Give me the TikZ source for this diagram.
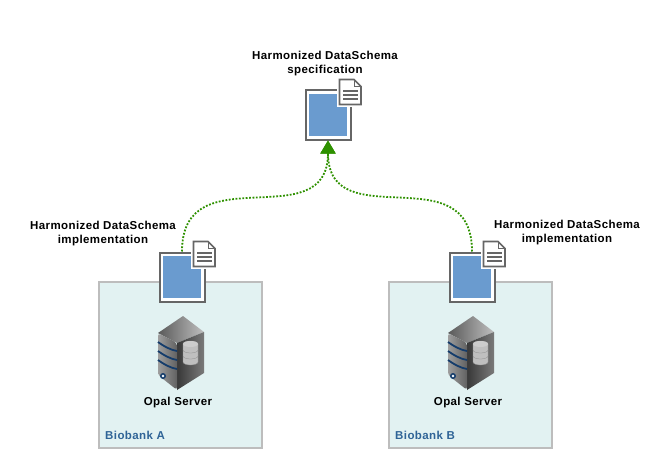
\documentclass[tikz,border=0pt]{standalone}
\usepackage{fontspec}
\setmainfont[LetterSpace=3.5]{Liberation Sans}
\usepackage{xcolor}
\usetikzlibrary{arrows.meta}
\definecolor{bankfill}{HTML}{E2F2F2}
\definecolor{bankline}{HTML}{BDBDBD}
\definecolor{banktext}{HTML}{2F6497}
\definecolor{docblue}{HTML}{6A9BCF}
\definecolor{docline}{HTML}{666666}
\definecolor{linkgreen}{HTML}{2E9100}
\definecolor{stripeblue}{HTML}{143C6B}
\tikzset{
  caption/.style={font=\fontsize{11.5}{14}\selectfont\bfseries, align=center, inner sep=0pt},
  bank/.style={draw=bankline, fill=bankfill, line width=1.2pt, minimum width=163pt, minimum height=166pt, inner sep=0pt},
  bankname/.style={font=\fontsize{11.5}{14}\selectfont\bfseries, text=banktext, anchor=west, inner sep=0pt},
  link/.style={draw=linkgreen, line width=1.8pt, dash pattern=on 1.8pt off 1.6pt, -{Triangle[length=13pt,width=15pt,fill=linkgreen]}},
  doc/.pic={
    \node (frame) [draw=docline, fill=white, line width=2pt, minimum width=45pt, minimum height=49pt, inner sep=0pt] at (0,0) {};
    \fill[docblue] (-19,-21) rectangle (19,21);
    \fill[white] (9,-37) rectangle (35,-8);
    \draw[docline, fill=white, line width=1.6pt] (11.5,-35.5) -- (26,-35.5) -- (33,-28.5) -- (33,-10.5) -- (11.5,-10.5) -- cycle;
    \draw[docline, line width=1pt] (26,-35.5) -- (26,-28.5) -- (33,-28.5);
    \foreach \y in {-24,-20,-16} \draw[docline, line width=1.6pt] (15,\y) -- (30,\y);
  },
  server/.pic={
    \shade[left color=black!65, right color=black!25] (2,-37) -- (23,-21) -- (-4,-10) -- (-23,-20) -- cycle;
    \shade[left color=black!78, right color=black!52] (-4,-10) -- (23,-21) -- (23,20) -- (-4,37) -- cycle;
    \shade[left color=black!38, right color=black!62, rounded corners=3pt] (-23,-20) -- (-4,-10) -- (-4,37) -- (-23,22) -- cycle;
    \foreach \y in {-11,-2,7} \draw[stripeblue, line width=1.8pt] (-23,\y) .. controls (-16,\y+5) and (-10,\y+8) .. (-4,\y+9);
    \fill[stripeblue] (-18,23) circle (3pt);
    \fill[white] (-18,23) circle (1.3pt);
    \foreach \y in {6,0,-6} {
      \fill[black!25, draw=black!45, line width=.3pt] (2,\y-3) -- (2,\y+3) arc[start angle=180, end angle=360, x radius=7.5pt, y radius=3pt] -- (17,\y-3) arc[start angle=0, end angle=180, x radius=7.5pt, y radius=3pt] -- cycle;
    }
    \fill[black!20] (9.5,-9) ellipse (7.5pt and 3pt);
  }
}
\begin{document}
\begin{tikzpicture}[x=1pt, y=-1pt]
  \useasboundingbox (0,0) rectangle (666,468);
  \node (bankA) [bank] at (180.5,365) {};
  \node (bankB) [bank] at (470.5,365) {};
  \pic (srvA) at (181,353) {server};
  \pic (srvB) at (471,353) {server};
  \pic (docC) at (328,115) {doc};
  \pic (docA) at (182,277) {doc};
  \pic (docB) at (472,277) {doc};
  \path[link]
  (docAframe.north) .. controls +(0,-98) and +(0,98) .. (docCframe.south);
  \path[link]
  (docBframe.north) .. controls +(0,-98) and +(0,98) .. (docCframe.south);
  \node (specC) [caption] at (325,64) {Harmonized DataSchema\\specification};
  \node (implA) [caption] at (103,234) {Harmonized DataSchema\\implementation};
  \node (implB) [caption] at (567,233) {Harmonized DataSchema\\implementation};
  \node (opalA) [caption] at (178,403) {Opal Server};
  \node (opalB) [caption] at (468,403) {Opal Server};
  \node (nameA) [bankname] at (105,435) {Biobank A};
  \node (nameB) [bankname] at (395,435) {Biobank B};
\end{tikzpicture}
\end{document}
